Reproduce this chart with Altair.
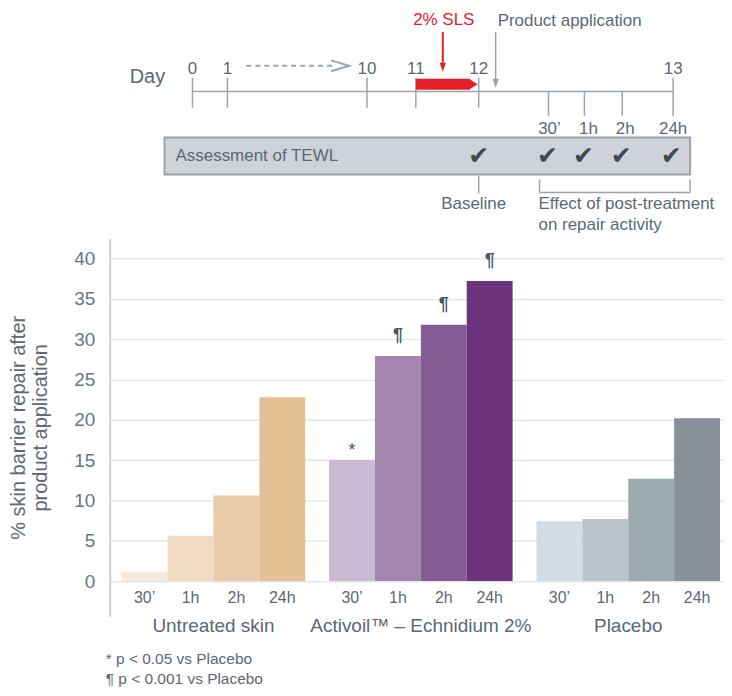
import altair as alt
import pandas as pd

# ---------------- data ----------------
groups = ["Untreated skin", "Activoil™ – Echnidium 2%", "Placebo"]
times = ["30’", "1h", "2h", "24h"]
untreated = [1.1, 5.6, 10.6, 22.8]
activoil = [15.0, 27.9, 31.8, 37.2]
placebo = [7.4, 7.7, 12.7, 20.2]
significance = ["", "", "", "", "*", "¶", "¶", "¶", "", "", "", ""]
y_ticks = [0, 5, 10, 15, 20, 25, 30, 35, 40]
y_title = ["% skin barrier repair after", "product application"]
footnotes = ["* p < 0.05 vs Placebo", "¶ p < 0.001 vs Placebo"]

# study-design timeline (schematic)
day_labels = ["0", "1", "10", "11", "12", "13"]
assess_labels = ["30’", "1h", "2h", "24h"]

# ---------------- styles / layout ----------------
FONT = "Liberation Sans"
TXT = "#5d6872"
LINE = "#9aa4ad"
RED = "#e5202a"
bar_colors = ["#f5e7d9", "#f1dbc3", "#eaccaa", "#e5c094",
              "#c9b9d3", "#a386ae", "#845b92", "#6c327c",
              "#d5dce2", "#b9c3c8", "#9eaab1", "#86919a"]

W = 616
H = 379
TOP_H = 226

# diagram layout positions (page pixels)
day_x = [191, 226, 366, 415, 478, 673]
assess_tick_x = [548, 584, 622]
assess_label_x = [549, 588, 625, 673]
check_x = [478, 547, 583, 621, 671]

# ---------------- bar chart ----------------
keys = [f"{g}|{t}" for g in groups for t in times]
df = pd.DataFrame({
    "group": [g for g in groups for _ in times],
    "time": times * 3,
    "value": untreated + activoil + placebo,
    "sig": significance,
    "key": keys,
})

xg = alt.X("group:N", sort=groups,
           scale=alt.Scale(paddingInner=0.115, paddingOuter=0.0385, align=0.75),
           axis=alt.Axis(title=None, orient="bottom", domain=False, ticks=False,
                         labelPadding=0, labelFontSize=19, labelColor=TXT,
                         labelAngle=0, labelFont=FONT, labelLimit=0))
xo = alt.XOffset("time:N", sort=times, scale=alt.Scale(paddingInner=0, paddingOuter=0))
yv = alt.Y("value:Q",
           scale=alt.Scale(domain=[-4.37, 42.51], nice=False, zero=False),
           axis=alt.Axis(values=y_ticks, title=y_title, titleFontSize=20,
                         titleFontWeight="normal", titleColor=TXT, titleFont=FONT,
                         titlePadding=23, labelFontSize=19, labelColor="#6b7580",
                         labelPadding=15, ticks=False, domainColor="#c9d0d6",
                         domainWidth=2, gridColor="#e3e7eb", gridWidth=1.5))

bars = alt.Chart(df).mark_bar().encode(
    x=xg, xOffset=xo, y=yv, y2=alt.datum(0),
    color=alt.Color("key:N", scale=alt.Scale(domain=keys, range=bar_colors), legend=None),
)
tick_text = alt.Chart(df).mark_text(fontSize=16, color=TXT, font=FONT, baseline="middle").encode(
    x=xg, xOffset=xo, y=alt.value(361), text="time:N")
para = alt.Chart(df).transform_filter("datum.sig == '¶'").mark_text(
    fontSize=18, fontWeight="bold", color="#4a5560", font=FONT, baseline="alphabetic",
    dy=-15).encode(x=xg, xOffset=xo, y=yv, text="sig:N")
star = alt.Chart(df).transform_filter("datum.sig == '*'").mark_text(
    fontSize=18, color="#4a5560", font=FONT, baseline="alphabetic", dy=-4).encode(
    x=xg, xOffset=xo, y=yv, text="sig:N")
fn1 = alt.Chart(pd.DataFrame({"t": [footnotes[0]]})).mark_text(
    fontSize=15.5, color=TXT, font=FONT, align="left", baseline="middle").encode(
    x=alt.value(-4), y=alt.value(422), text="t:N")
fn2 = alt.Chart(pd.DataFrame({"t": [footnotes[1]]})).mark_text(
    fontSize=15.5, color=TXT, font=FONT, align="left", baseline="middle").encode(
    x=alt.value(-4), y=alt.value(442), text="t:N")

bottom = alt.layer(bars, tick_text, para, star, fn1, fn2).properties(width=W, height=H)

# ---------------- timeline diagram ----------------
DX = alt.Scale(domain=[108, 108 + W], nice=False, zero=False)
DY = alt.Scale(domain=[8, 8 + TOP_H], nice=False, zero=False, reverse=True)


def dxy(extra=None):
    enc = dict(x=alt.X("x:Q", scale=DX, axis=None), y=alt.Y("y:Q", scale=DY, axis=None))
    if extra:
        enc.update(extra)
    return enc


def texts(rows, size=17, color=TXT, align="center", font=FONT):
    d = pd.DataFrame(rows, columns=["x", "y", "t"])
    return alt.Chart(d).mark_text(fontSize=size, color=color, align=align,
                                  baseline="middle", font=font).encode(**dxy({"text": "t:N"}))


box = alt.Chart(pd.DataFrame({"x": [163], "x2": [690], "y": [137], "y2": [174]})).mark_rect(
    fill="#cdd3d9", stroke="#98a2ab", strokeWidth=2).encode(**dxy({"x2": "x2:Q", "y2": "y2:Q"}))

rule_rows = [(191, 673, 90.7, 90.7)]
rule_rows += [(x, x, 77, 107) for x in day_x[:-1]]
rule_rows += [(day_x[-1], day_x[-1], 77, 115)]
rule_rows += [(x, x, 90.7, 115) for x in assess_tick_x]
rule_rows += [(495, 495, 31, 80), (478, 478, 175, 193),
              (539, 539, 179, 192), (690, 690, 179, 192), (539, 690, 192, 192)]
rules = alt.Chart(pd.DataFrame(rule_rows, columns=["x", "x2", "y", "y2"])).mark_rule(
    color=LINE, strokeWidth=1.5).encode(**dxy({"x2": "x2:Q", "y2": "y2:Q"}))

dashed = alt.Chart(pd.DataFrame({"x": [245], "x2": [334], "y": [65], "y2": [65]})).mark_rule(
    color=LINE, strokeWidth=2, strokeDash=[5, 4]).encode(**dxy({"x2": "x2:Q", "y2": "y2:Q"}))
chevron = alt.Chart(pd.DataFrame({"x": [339], "y": [65]})).mark_point(
    shape="M-1,-0.6L1,0L-1,0.6", size=324, filled=False, stroke=LINE, strokeWidth=2,
    opacity=1).encode(**dxy())

red_shaft = alt.Chart(pd.DataFrame({"x": [442], "x2": [442], "y": [31], "y2": [64]})).mark_rule(
    color=RED, strokeWidth=2).encode(**dxy({"x2": "x2:Q", "y2": "y2:Q"}))
red_head = alt.Chart(pd.DataFrame({"x": [442], "y": [66.5]})).mark_point(
    shape="M-0.7,-1L0.7,-1L0,1Z", size=81, filled=True, color=RED, opacity=1).encode(**dxy())
gray_head = alt.Chart(pd.DataFrame({"x": [495], "y": [82.5]})).mark_point(
    shape="M-0.7,-1L0.7,-1L0,1Z", size=81, filled=True, color=LINE, opacity=1).encode(**dxy())
red_bar = alt.Chart(pd.DataFrame({"x": [415], "x2": [469], "y": [78], "y2": [89]})).mark_rect(
    color=RED).encode(**dxy({"x2": "x2:Q", "y2": "y2:Q"}))
red_tip = alt.Chart(pd.DataFrame({"x": [472.5], "y": [83.5]})).mark_point(
    shape="M-0.8,-1L0.8,0L-0.8,1Z", size=121, filled=True, color=RED, opacity=1).encode(**dxy())

t_day = texts([(128, 76, "Day")], size=20, align="left")
t_days = texts([(x, 68, l) for x, l in zip(day_x, day_labels)])
t_sls = texts([(443, 19, "2% SLS")], color=RED)
t_prod = texts([(497, 20, "Product application")], align="left")
t_assess = texts([(x, 128, l) for x, l in zip(assess_label_x, assess_labels)])
t_tewl = texts([(174, 155, "Assessment of TEWL")], align="left")
t_checks = texts([(x, 155, "✔") for x in check_x], size=25, color="#3e4952", font="DejaVu Sans")
t_base = texts([(473, 204, "Baseline")])
t_effect = texts([(538, 204, "Effect of post-treatment"), (538, 225, "on repair activity")],
                 align="left")

top = alt.layer(box, rules, dashed, chevron, red_shaft, red_head, gray_head, red_bar, red_tip,
                t_day, t_days, t_sls, t_prod, t_assess, t_tewl, t_checks, t_base,
                t_effect).properties(width=W, height=TOP_H)

chart = (alt.vconcat(top, bottom, spacing=4)
         .properties(padding=0)
         .configure(font=FONT)
         .configure_view(stroke=None))

chart.save("out.html", embed_options={"renderer": "svg", "actions": False})
